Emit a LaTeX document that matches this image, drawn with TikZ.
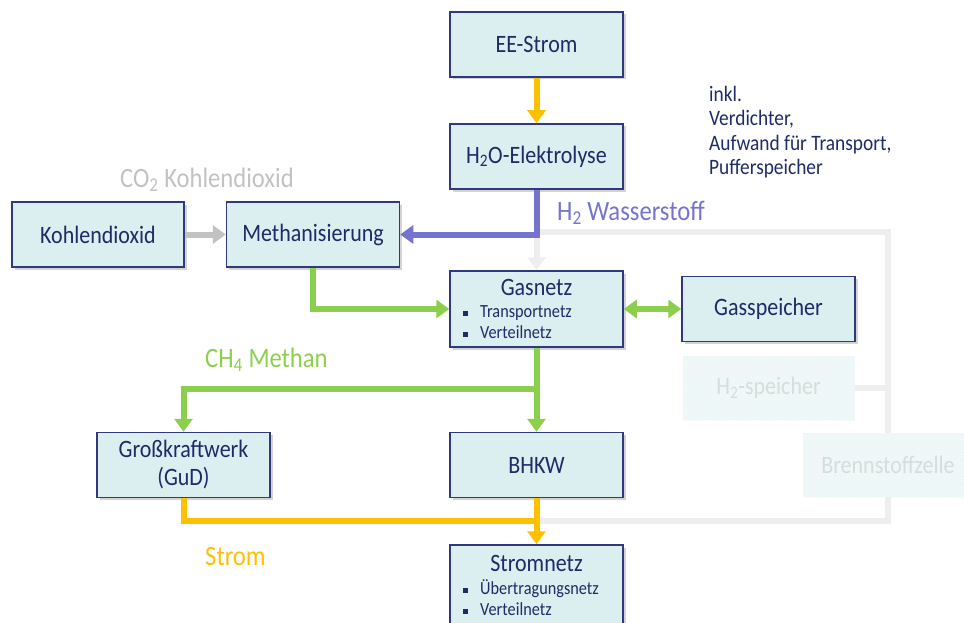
\documentclass[tikz,border=0pt]{standalone}
\usepackage{fontspec}
\setmainfont[FakeStretch=0.88]{Carlito}
\usetikzlibrary{arrows.meta,shadows,patterns}
\definecolor{boxfill}{HTML}{DBEEF0}
\definecolor{boxdraw}{HTML}{2E3A7C}
\definecolor{txt}{HTML}{1F2A66}
\definecolor{ygold}{HTML}{FFC000}
\definecolor{ggreen}{HTML}{8CCF4D}
\definecolor{hpurple}{HTML}{7474D0}
\definecolor{cgray}{HTML}{C2C2C2}
\definecolor{fgray}{HTML}{EEEEEE}
\definecolor{ghosttxt}{HTML}{D8DCDC}
\newcommand{\bsq}{\raisebox{0.25ex}{\rule{5pt}{5pt}}\hspace{12pt}}
\tikzset{
  box/.style={draw=boxdraw, line width=1.5pt, fill=boxfill, text=txt,
    minimum width=173pt, minimum height=65pt, inner sep=0pt, align=center,
    font=\fontsize{25}{28}\selectfont,
    drop shadow={shadow xshift=2.5pt, shadow yshift=-2.5pt, opacity=0.35}},
  ghost/.style={minimum width=172pt, minimum height=64pt, inner sep=0pt,
    text=ghosttxt, font=\fontsize{25}{28}\selectfont,
    preaction={fill=boxfill!30}, pattern=north west lines, pattern color=boxfill!70},
  tip/.style={-{Triangle[width=18pt,length=13pt]}},
  flow/.style={line width=6pt, tip},
  line/.style={line width=6pt},
  lbl/.style={font=\fontsize{28}{30}\selectfont, inner sep=0pt},
  sub/.style={font=\fontsize{18.5}{21}\selectfont, text=txt, align=left, inner sep=0pt}
}
\begin{document}
\begin{tikzpicture}[x=1pt,y=-1pt]
\useasboundingbox (0,0) rectangle (964,623);
% nodes
\node[box] (ee) at (536.5,44.5) {EE-Strom};
\node[box] (h2o) at (536.5,156.5) {H\textsubscript{2}O-Elektrolyse};
\node[box, minimum width=172pt] (kohl) at (98,234.5) {Kohlendioxid};
\node[box] (meth) at (313,234.5) {Methanisierung};
\node[box, minimum height=76pt] (gas) at (536.5,309) {};
\node[box] (gsp) at (768.5,309) {Gasspeicher};
\node[ghost] (h2s) at (768.5,388) {H\textsubscript{2}-speicher};
\node[box] (gkw) at (183.5,465) {Großkraftwerk\\(GuD)};
\node[box] (bhkw) at (536.5,465) {BHKW};
\node[ghost, minimum width=170pt] (bz) at (888,465) {Brennstoffzelle};
\node[box, minimum height=80pt] (strom) at (536.5,585) {};
% texts inside nets
\node[text=txt, font=\fontsize{25}{28}\selectfont, inner sep=0pt] (gast) at (536.5,287) {Gasnetz};
\node[sub, anchor=west] (gasl) at (463,322.5) {\bsq Transportnetz\\\bsq Verteilnetz};
\node[text=txt, font=\fontsize{25}{28}\selectfont, inner sep=0pt] (stt) at (536.5,563) {Stromnetz};
\node[sub, anchor=west] (stl) at (463,598) {\bsq Übertragungsnetz\\\bsq Verteilnetz};
% helper coordinates
\coordinate (hc) at (536.5,232);
\coordinate (gc) at (536.5,389);
\coordinate (yc) at (536.5,521);
% light gray (hydrogen path)
\draw[line, fgray] (hc) -| (bz.north);
\draw[flow, fgray] (hc) -- (gas.north);
\draw[line, fgray] (h2s.east) -- (h2s.east -| bz.north);
\draw[line, fgray] (bz.south) |- (yc);
% yellow
\draw[flow, ygold] (ee.south) -- (h2o.north);
\draw[line, ygold] (gkw.south) |- (yc);
\draw[flow, ygold] (bhkw.south) -- (strom.north);
% purple
\draw[flow, hpurple] (h2o.south) |- (meth.east);
% gray CO2
\draw[flow, cgray] (kohl.east) -- (meth.west);
% green
\draw[flow, ggreen] (meth.south) |- (gas.west);
\draw[flow, ggreen] (gas.south) -- (bhkw.north);
\draw[flow, ggreen] (gc) -| (gkw.north);
\draw[line width=6pt, {Triangle[width=18pt,length=13pt]}-{Triangle[width=18pt,length=13pt]}, ggreen] (gas.east) -- (gsp.west);
% labels
\node[lbl, text=cgray] (lco) at (207,180) {CO\textsubscript{2} Kohlendioxid};
\node[lbl, text=hpurple, anchor=west] (lh) at (557,213) {H\textsubscript{2} Wasserstoff};
\node[lbl, text=ggreen, anchor=west] (lch) at (205,360) {CH\textsubscript{4} Methan};
\node[lbl, text=ygold, anchor=west] (lst) at (205,557) {Strom};
\node[anchor=north west, inner sep=0pt, text=txt, align=left, font=\fontsize{22}{24.5}\selectfont] (inkl) at (709,86) {inkl.\\Verdichter,\\Aufwand für Transport,\\Pufferspeicher};
\end{tikzpicture}
\end{document}
